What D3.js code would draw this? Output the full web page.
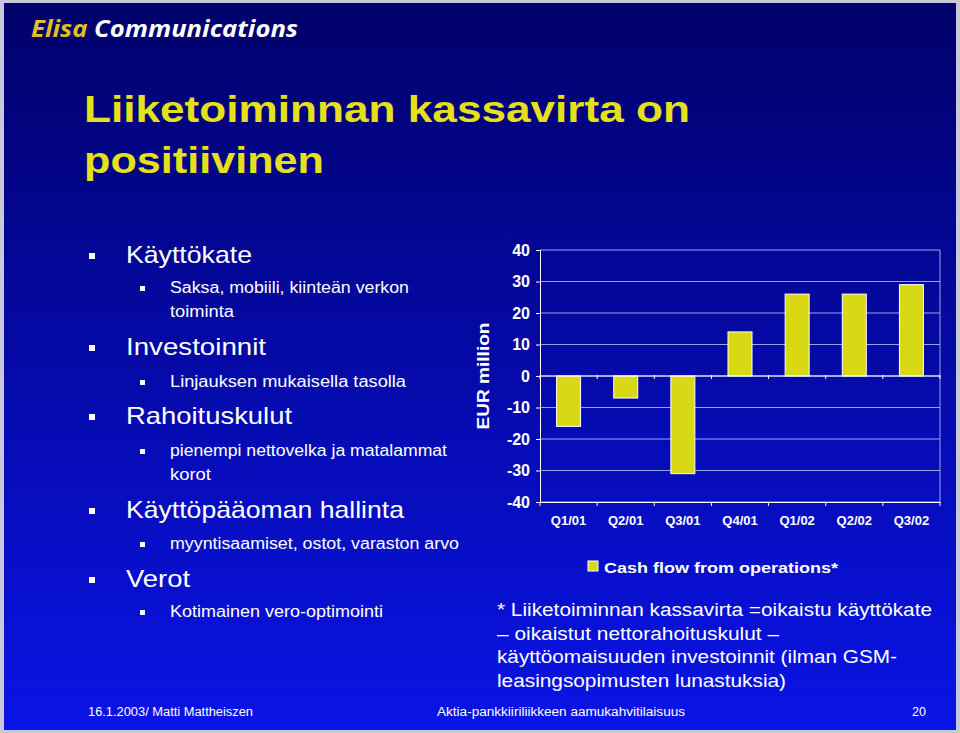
<!DOCTYPE html><html><head><meta charset="utf-8">
<script src="https://cdn.jsdelivr.net/npm/d3@7"></script>
<style>body{margin:0;background:#000}svg{display:block}</style></head><body>
<script>
const categories=["Q1/01","Q2/01","Q3/01","Q4/01","Q1/02","Q2/02","Q3/02"];
const cashFlow=[-16,-7,-31,14,26,26,29];
const yTicks=[40,30,20,10,0,-10,-20,-30,-40];
const W=960,H=733;
const svg=d3.select("body").append("svg").attr("width",W).attr("height",H).style("font-family","Liberation Sans, Arial, sans-serif");
const defs=svg.append("defs");
const g=defs.append("linearGradient").attr("id","bg").attr("x1",0).attr("y1",0).attr("x2",0).attr("y2",1);
g.append("stop").attr("offset","0%").attr("stop-color","#00006a");
g.append("stop").attr("offset","100%").attr("stop-color","#0a14e6");
svg.append("rect").attr("width",W).attr("height",H).attr("fill","#c8c8dc");
svg.append("rect").attr("x",4).attr("y",3).attr("width",W-8).attr("height",H-6).attr("fill","url(#bg)");
function T(x,y,s,t,len,o={}){const e=svg.append("text").attr("x",x).attr("y",y).attr("font-size",s).attr("fill",o.fill||"#fff").text(t);
 if(o.bold)e.attr("font-weight","bold"); if(len)e.attr("textLength",len).attr("lengthAdjust","spacingAndGlyphs"); return e;}
const hd=svg.append("text").attr("x",31).attr("y",37).attr("font-size",23).attr("font-weight","bold").attr("font-style","italic").attr("font-family","Open Sans, sans-serif").attr("textLength",267).attr("lengthAdjust","spacingAndGlyphs");
hd.append("tspan").attr("fill","#e0c020").text("Elisa ");
hd.append("tspan").attr("fill","#fff").text("Communications");
T(84,122,37,"Liiketoiminnan kassavirta on",606,{bold:1,fill:"#e6e01a"});
T(84,173,37,"positiivinen",240,{bold:1,fill:"#e6e01a"});
const items=[[1,"Käyttökate",263,126],[2,"Saksa, mobiili, kiinteän verkon",293,239],[3,"toiminta",317,64],[1,"Investoinnit",355,140],[2,"Linjauksen mukaisella tasolla",387,236],[1,"Rahoituskulut",424,166],[2,"pienempi nettovelka ja matalammat",456,277],[3,"korot",480,41],[1,"Käyttöpääoman hallinta",518,278],[2,"myyntisaamiset, ostot, varaston arvo",549,289],[1,"Verot",587,64],[2,"Kotimainen vero-optimointi",617,213]];
items.forEach(([lvl,t,y,len])=>{
  if(lvl===1){svg.append("rect").attr("x",89).attr("y",y-10).attr("width",6).attr("height",6).attr("fill","#fff");
    T(126,y,24,t,len);}
  else{ if(lvl===2)svg.append("rect").attr("x",140).attr("y",y-7).attr("width",5).attr("height",5).attr("fill","#fff");
    T(170,y,16,t,len);}
});
const x=d3.scaleBand().domain(categories).range([540,940]).paddingInner(0.58).paddingOuter(0.29);
const y=d3.scaleLinear().domain([-40,40]).range([502,250]);
const c=svg.append("g");
c.selectAll(".gl").data(yTicks).join("line").attr("x1",540).attr("x2",940).attr("y1",d=>y(d)).attr("y2",d=>y(d)).attr("stroke","#9aa4e8").attr("stroke-width",1);
c.append("line").attr("x1",940).attr("x2",940).attr("y1",250).attr("y2",502).attr("stroke","#9aa4e8");
const ya=c.append("g").attr("transform","translate(540,0)").call(d3.axisLeft(y).tickValues(yTicks).tickFormat(d=>String(d)).tickSize(4).tickPadding(6));
ya.selectAll("text").attr("fill","#fff").attr("font-size",16).attr("font-weight","bold").attr("font-family","Liberation Sans, Arial");
ya.selectAll("line,path").attr("stroke","#fff");
const xa=c.append("g").attr("transform","translate(0,502)").call(d3.axisBottom(x).tickSize(0).tickPadding(14));
xa.selectAll("text").attr("fill","#fff").attr("font-size",13).attr("font-weight","bold").attr("font-family","Liberation Sans, Arial");
xa.select("path").attr("stroke","#fff");
c.selectAll(".tk").data(d3.range(categories.length+1)).join("line").attr("x1",i=>540+i*400/7).attr("x2",i=>540+i*400/7).attr("y1",502).attr("y2",506).attr("stroke","#fff");
c.selectAll(".tz").data(d3.range(categories.length+1)).join("line").attr("x1",i=>540+i*400/7).attr("x2",i=>540+i*400/7).attr("y1",375).attr("y2",379).attr("stroke","#fff");
c.selectAll(".bar").data(cashFlow).join("rect").attr("x",(d,i)=>x(categories[i])).attr("width",x.bandwidth())
 .attr("y",d=>y(Math.max(0,d))).attr("height",d=>Math.abs(y(d)-y(0))).attr("fill","#d8d814").attr("stroke","#fff").attr("stroke-width",1);
c.append("line").attr("x1",540).attr("x2",940).attr("y1",y(0)).attr("y2",y(0)).attr("stroke","#fff");
svg.append("text").attr("transform","translate(489,376) rotate(-90)").attr("text-anchor","middle").attr("font-size",17).attr("font-weight","bold").attr("fill","#fff").attr("textLength",107).attr("lengthAdjust","spacingAndGlyphs").text("EUR million");
svg.append("rect").attr("x",588).attr("y",561).attr("width",10).attr("height",10).attr("fill","#d8d814").attr("stroke","#fff");
T(604,573,15,"Cash flow from operations*",234,{bold:1});
[["* Liiketoiminnan kassavirta =oikaistu käyttökate",435],["– oikaistut nettorahoituskulut –",282],["käyttöomaisuuden investoinnit (ilman GSM-",400],["leasingsopimusten lunastuksia)",289]].forEach(([t,l],i)=>
 T(497,616+i*23.5,18,t,l));
T(88,716,12.5,"16.1.2003/ Matti Mattheiszen",165);
T(437,716,12.5,"Aktia-pankkiiriliikkeen aamukahvitilaisuus",248);
T(912,716,12.5,"20");
</script></body></html>
